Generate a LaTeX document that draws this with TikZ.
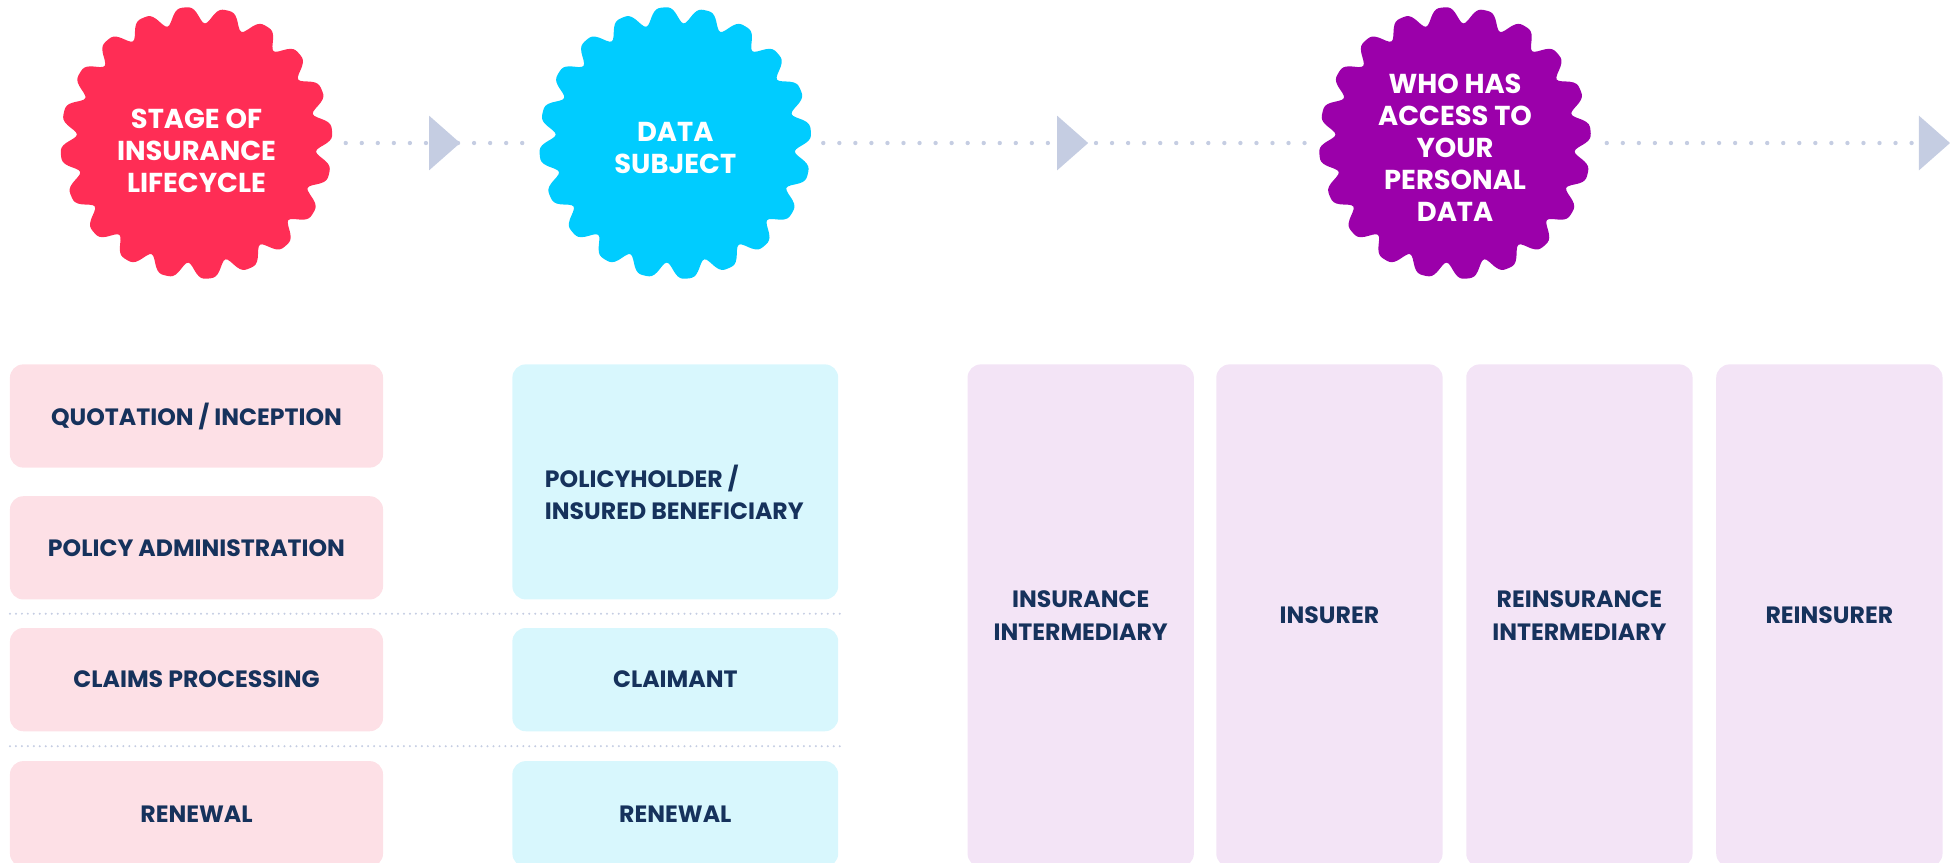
\documentclass[tikz,border=0pt]{standalone}
\usepackage{fontspec}
\setmainfont{Poppins}
\usepackage{tikz}

\definecolor{badgered}{RGB}{255,45,85}
\definecolor{badgecyan}{RGB}{0,204,255}
\definecolor{badgepurple}{RGB}{155,0,170}
\definecolor{boxpink}{RGB}{253,224,230}
\definecolor{boxcyan}{RGB}{216,247,253}
\definecolor{boxlilac}{RGB}{243,228,246}
\definecolor{navy}{RGB}{22,50,92}
\definecolor{dotgray}{RGB}{197,205,226}

% wavy badge round a named centre
\newcommand{\wavybadge}[2]{\fill[#2, shift={(#1)}] plot[domain=0:359, samples=360, smooth cycle, variable=\ang] (\ang:{104.5+6.5*cos(20*\ang-260)-1.6*cos(40*\ang-520)});}

\begin{document}
\begin{tikzpicture}[x=1pt, y=-1pt,
  badgetext/.style={text=white, align=center, inner sep=0pt, font=\fontsize{22}{25.7}\selectfont\bfseries},
  boxtext/.style={text=navy, align=center, inner sep=0pt, font=\fontsize{19}{26}\selectfont\bfseries},
  stagebox/.style={boxtext, fill=boxpink, rounded corners=10.7pt, minimum width=300pt, minimum height=83pt},
  subjectbox/.style={boxtext, fill=boxcyan, rounded corners=10.7pt, minimum width=262pt, minimum height=83pt},
  accessbox/.style={boxtext, fill=boxlilac, rounded corners=10.7pt, minimum width=182pt, minimum height=404pt},
  dotline/.style={dotgray, line width=3.5pt, line cap=round, dash pattern=on 0pt off 12.9pt},
  sepline/.style={dotgray, line width=1.8pt, line cap=round, dash pattern=on 0pt off 4.8pt}]
\useasboundingbox (0,0) rectangle (1568,693.2);
\clip (0,0) rectangle (1568,693.2);

\coordinate (stage) at (158,115);
\coordinate (subject) at (543,115);
\coordinate (access) at (1170,115);
\coordinate (tip1) at (370,115);
\coordinate (tip2) at (875,115);
\coordinate (tip3) at (1568,115);

\wavybadge{stage}{badgered}
\wavybadge{subject}{badgecyan}
\wavybadge{access}{badgepurple}

\node[badgetext] (stagetxt) at ([yshift=-6pt]stage) {STAGE OF\\INSURANCE\\LIFECYCLE};
\node[badgetext] (subjecttxt) at ([yshift=-4pt]subject) {DATA\\SUBJECT};
\node[badgetext] (accesstxt) at ([yshift=-4pt]access) {WHO HAS\\ACCESS TO\\YOUR\\PERSONAL\\DATA};

\draw[dotline, shorten <=120pt, shorten >=113pt] (stage) -- (subject);
\draw[dotline, shorten <=119pt, shorten >=120pt] (subject) -- (access);
\draw[dotline, shorten <=122pt, shorten >=28pt] (access) -- (tip3);
\foreach \t in {tip1,tip2,tip3}
  \fill[dotgray] (\t) -- ++(-25,-22) -- ++(0,44) -- cycle;

% stage column
\node[stagebox] (quote) at (158,334.5) {QUOTATION / INCEPTION};
\node[stagebox] (admin) at (158,440.5) {POLICY ADMINISTRATION};
\node[stagebox] (claims) at (158,546.5) {CLAIMS PROCESSING};
\node[stagebox, minimum height=85pt] (renewA) at (158,654.5) {RENEWAL};

% subject column
\node[subjectbox, minimum height=189pt] (holder) at (543,387.5) {};
\node[boxtext, anchor=west, align=left] (holdertxt) at (438,396) {POLICYHOLDER /\\INSURED BENEFICIARY};
\node[subjectbox] (claimant) at (543,546.5) {CLAIMANT};
\node[subjectbox, minimum height=85pt] (renewB) at (543,654.5) {RENEWAL};

\draw[sepline] (8,493.5) -- (676,493.5);
\draw[sepline] (8,600) -- (676,600);

% who has access
\node[accessbox] (broker) at (869,495) {INSURANCE\\INTERMEDIARY};
\node[accessbox] (insurer) at (1069,495) {INSURER};
\node[accessbox] (rebroker) at (1270,495) {REINSURANCE\\INTERMEDIARY};
\node[accessbox] (reinsurer) at (1471,495) {REINSURER};
\end{tikzpicture}
\end{document}
